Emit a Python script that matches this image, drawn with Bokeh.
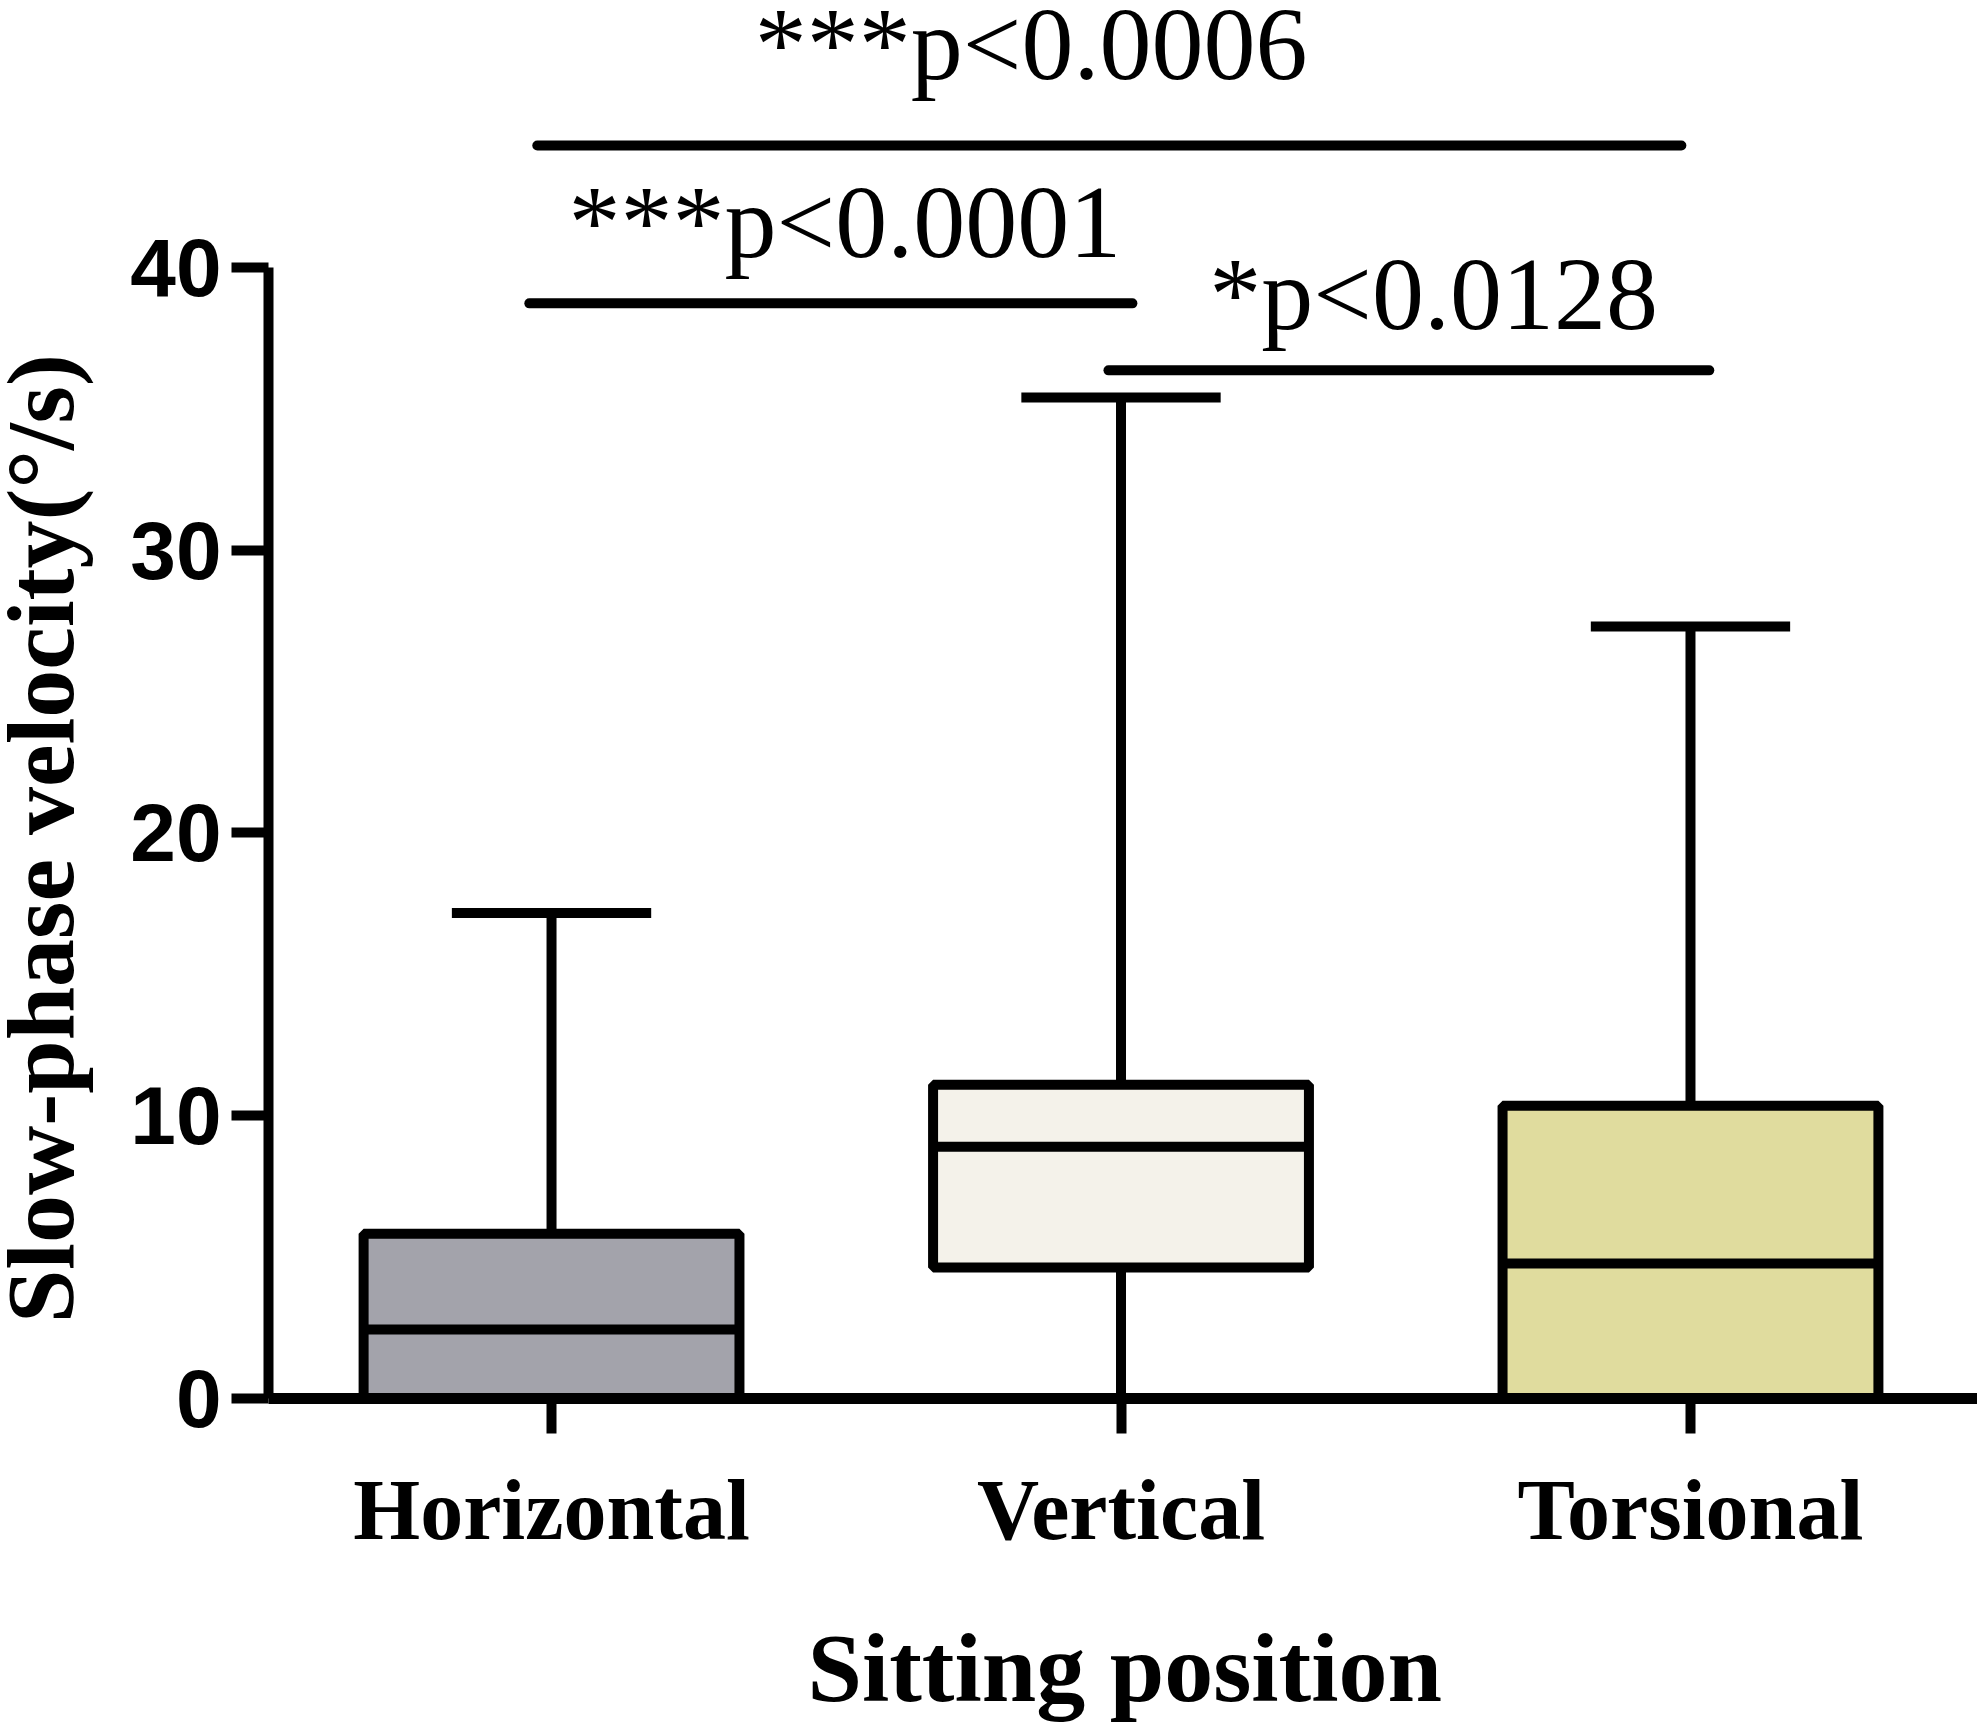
import math
from bokeh.plotting import figure
from bokeh.models import ColumnDataSource, FixedTicker, Range1d
from bokeh.layouts import column, row
from bokeh.core.properties import value
from bokeh.embed import file_html
from bokeh.resources import INLINE

# ---------------- data ----------------
categories = ["Horizontal", "Vertical", "Torsional"]
q1 = [0.0, 4.63, 0.0]
medians = [2.44, 8.90, 4.77]
q3 = [5.83, 11.10, 10.35]
whisker_low = [0.0, 0.0, 0.0]
whisker_high = [17.17, 35.40, 27.30]
box_colors = ["#a3a3ab", "#f4f2ea", "#e0dc9e"]
y_ticks = [0, 10, 20, 30, 40]
y_title = "Slow-phase velocity(°/s)"
x_title = "Sitting position"

sig_labels = ["***p<0.0006", "***p<0.0001", "*p<0.0128"]
sig_from = [1, 1, 2]
sig_to = [3, 2, 3]

# ---------------- annotation layout ----------------
sig_line_y = [44.31, 38.73, 36.36]
sig_start_off = [-0.025, -0.039, -0.022]
sig_end_off = [-0.016, 0.020, 0.033]
sig_text_x = [1.357, 1.030, 2.155]
sig_text_y = [47.92, 41.62, 39.07]

xpos = list(range(1, len(categories) + 1))
box_w = 0.66
cap_w = 0.35

YLAB_W = 120
MAIN_W = 1857
MAIN_H = 1563
XLAB_H = 160

src = ColumnDataSource(dict(
    x=xpos, q1=q1, med=medians, q3=q3, lo=whisker_low, hi=whisker_high,
    color=box_colors,
    left=[x - box_w / 2 for x in xpos], right=[x + box_w / 2 for x in xpos],
    capl=[x - cap_w / 2 for x in xpos], capr=[x + cap_w / 2 for x in xpos],
))

p = figure(width=MAIN_W, height=MAIN_H,
           x_range=Range1d(0.503, 3.504), y_range=Range1d(0, 49.44),
           output_backend="svg", toolbar_location=None,
           min_border_left=148, min_border_right=0,
           min_border_top=0, min_border_bottom=165)
p.outline_line_color = None
p.xgrid.visible = False
p.ygrid.visible = False
p.background_fill_color = "white"
p.border_fill_color = "white"

# y axis
ya = p.yaxis[0]
ya.ticker = FixedTicker(ticks=y_ticks)
ya.bounds = (0, 40)
ya.axis_line_width = 10
ya.axis_line_color = "black"
ya.major_tick_line_width = 10
ya.major_tick_line_color = "black"
ya.major_tick_out = 37
ya.major_tick_in = 0
ya.minor_tick_line_color = None
ya.major_label_standoff = 10
ya.major_label_text_font = "Liberation Sans"
ya.major_label_text_font_style = "bold"
ya.major_label_text_font_size = "82px"
ya.major_label_text_color = "black"

# x axis
xa = p.xaxis[0]
xa.ticker = FixedTicker(ticks=xpos)
xa.major_label_overrides = {x: c for x, c in zip(xpos, categories)}
xa.axis_line_width = 11
xa.axis_line_color = "black"
xa.major_tick_line_width = 10
xa.major_tick_line_color = "black"
xa.major_tick_out = 35
xa.major_tick_in = 0
xa.minor_tick_line_color = None
xa.major_label_standoff = 28
xa.major_label_text_font = "Liberation Serif"
xa.major_label_text_font_style = "bold"
xa.major_label_text_font_size = "86px"
xa.major_label_text_color = "black"

# whiskers
p.segment(x0="x", y0="q3", x1="x", y1="hi", source=src, line_width=10, line_color="black")
p.segment(x0="x", y0="q1", x1="x", y1="lo", source=src, line_width=10, line_color="black")
# boxes
p.vbar(x="x", width=box_w, bottom="q1", top="q3", source=src,
       fill_color="color", line_color="black", line_width=10)
# medians
p.segment(x0="left", y0="med", x1="right", y1="med", source=src, line_width=10, line_color="black")
# caps
p.segment(x0="capl", y0="hi", x1="capr", y1="hi", source=src, line_width=10, line_color="black")

# significance brackets
sig_src = ColumnDataSource(dict(
    x0=[a + o for a, o in zip(sig_from, sig_start_off)],
    x1=[b + o for b, o in zip(sig_to, sig_end_off)],
    y=sig_line_y, tx=sig_text_x, ty=sig_text_y, text=sig_labels,
))
p.segment(x0="x0", y0="y", x1="x1", y1="y", source=sig_src,
          line_width=10, line_color="black", line_cap="round")
p.text(x="tx", y="ty", text="text", source=sig_src,
       text_font=value("Liberation Serif"), text_font_size=value("104px"),
       text_align="left", text_baseline="alphabetic", text_color="black")


def label_fig(w, h):
    f = figure(width=w, height=h, x_range=Range1d(0, w), y_range=Range1d(0, h),
               x_axis_type=None, y_axis_type=None, output_backend="svg",
               toolbar_location=None, min_border=0)
    f.outline_line_color = None
    f.xgrid.visible = False
    f.ygrid.visible = False
    f.background_fill_color = "white"
    f.border_fill_color = "white"
    return f


# y-axis title (rotated text in a narrow side panel)
fy = label_fig(YLAB_W, MAIN_H)
fy.text(x=[40], y=[MAIN_H - 937], text=[y_title], angle=math.pi / 2,
        text_font=value("Liberation Serif"), text_font_style="bold",
        text_font_size=value("96px"), text_align="center", text_baseline="middle",
        text_color="black")

# x-axis title (below)
fx = label_fig(YLAB_W + MAIN_W, XLAB_H)
fx.text(x=[807], y=[56], text=[x_title],
        text_font=value("Liberation Serif"), text_font_style="bold",
        text_font_size=value("98px"), text_align="left", text_baseline="middle",
        text_color="black")

layout = column(row(fy, p), fx)

with open("out.html", "w", encoding="utf-8") as f:
    f.write(file_html(layout, INLINE))
